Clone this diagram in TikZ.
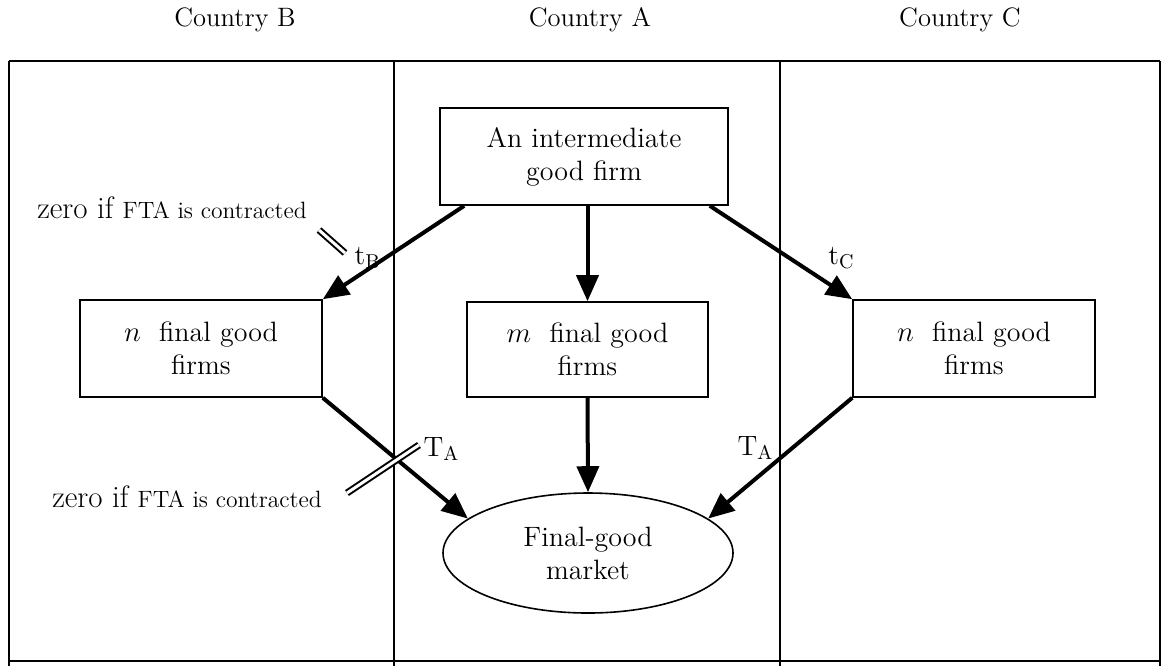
\documentclass[tikz,border=0pt]{standalone}
\usetikzlibrary{arrows.meta,shapes.geometric}
\begin{document}
\begin{tikzpicture}[x=0.5pt,y=-0.5pt,
  every node/.style={font=\fontsize{14}{16.5}\selectfont},
  frame/.style={line width=1pt},
  boxnode/.style={draw,line width=0.8pt,align=center,inner sep=0pt,minimum height=48.5pt},
  flow/.style={line width=2pt,-{Triangle[length=13pt,width=11pt]}},
  cut/.style={double,line width=1pt,double distance=1.5pt},
  lab/.style={inner sep=0pt},
  title/.style={inner sep=0pt,font=\fontsize{13.3}{16}\selectfont},
  note/.style={inner sep=0pt,font=\fontsize{15.5}{18}\selectfont},
  sm/.style={}
]
\useasboundingbox (0,0) rectangle (1165,666);
% frame
\draw[frame] (9,61) -- (1160,61);
\draw[frame] (9,661) -- (1160,661);
\foreach \x in {9,394,780,1160} \draw[frame] (\x,61) -- (\x,666);
% column titles
\node[title] (cB) at (235,20) {Country B};
\node[title] (cA) at (590,20) {Country A};
\node[title] (cC) at (960,20) {Country C};
% nodes
\node[boxnode,minimum width=144pt] (ib) at (584,156.5) {An intermediate\\good firm};
\node[boxnode,minimum width=121pt] (nB) at (201,348.5) {$n$~ final good\\firms};
\node[boxnode,minimum width=120.5pt,minimum height=47.5pt] (m) at (587.5,349.5) {$m$~ final good\\firms};
\node[boxnode,minimum width=121pt] (nC) at (974,348.5) {$n$~ final good\\firms};
\node[draw,ellipse,line width=0.8pt,inner sep=0pt,minimum width=145pt,minimum height=60pt,align=center] (mkt) at (588,553) {Final-good\\market};
% connectors
\draw[flow] ([xshift=12.5pt]ib.south west) -- (nB.north east);
\draw[flow] (ib.south -| m.north) -- (m.north);
\draw[flow] ([xshift=-9.5pt]ib.south east) -- (nC.north west);
\draw[flow] (nB.south east) -- (mkt.164);
\draw[flow] (m.south) -- (mkt.north);
\draw[flow] (nC.south west) -- (mkt.16);
% cut marks
\draw[cut] (319,230) -- (345,253);
\draw[cut] (347,493) -- (419,445);
% labels
\node[lab] (tB) at (367,258) {t\raisebox{-0.35ex}{\fontsize{10}{12}\selectfont B}};
\node[lab] (tC) at (841,258) {t\raisebox{-0.35ex}{\fontsize{10}{12}\selectfont C}};
\node[lab] (TA1) at (441,449) {T\raisebox{-0.35ex}{\fontsize{10}{12}\selectfont A}};
\node[lab] (TA2) at (755,448) {T\raisebox{-0.35ex}{\fontsize{10}{12}\selectfont A}};
\node[note] (z1) at (172,208) {zero if {\fontsize{11.8}{14}\selectfont FTA is contracted}};
\node[note] (z2) at (187,497) {zero if {\fontsize{11.8}{14}\selectfont FTA is contracted}};
\end{tikzpicture}
\end{document}
